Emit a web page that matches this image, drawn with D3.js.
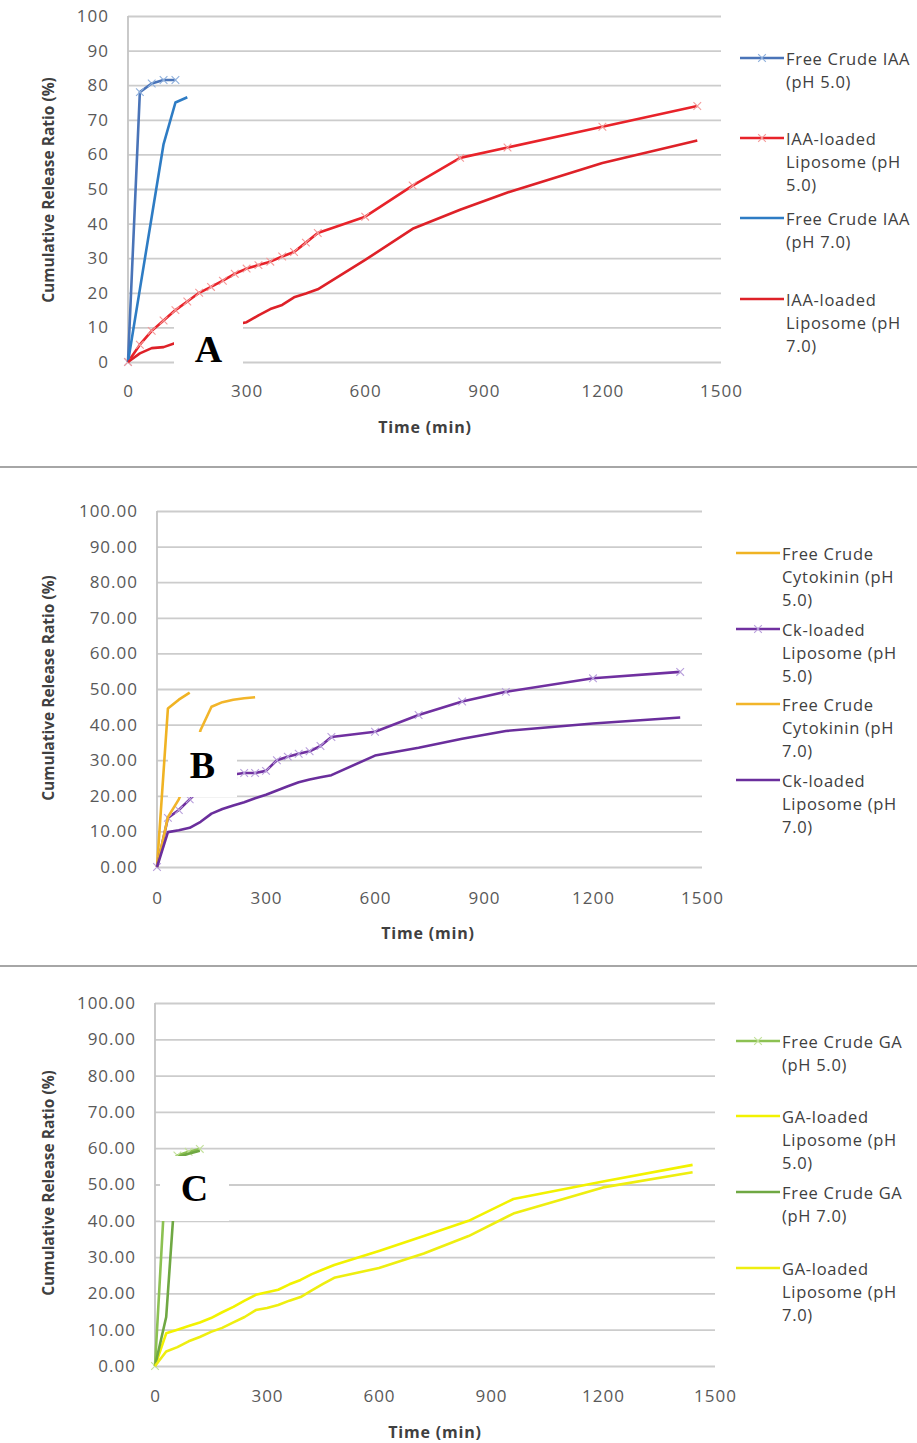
<!DOCTYPE html>
<html>
<head>
<meta charset="utf-8">
<script src="https://cdn.jsdelivr.net/npm/d3@7"></script>
<style>
  body { margin: 0; background: #fff; }
  svg { display: block; }
  text { font-family: "Open Sans", "DejaVu Sans", sans-serif; }
</style>
</head>
<body>
<script>
// ---------- shared axes ----------
const xTicks = [0, 300, 600, 900, 1200, 1500];
const yTicks = [0, 10, 20, 30, 40, 50, 60, 70, 80, 90, 100];
// sampling times (min) for the liposome release runs
const tLipo = [0, 30, 60, 90, 120, 150, 180, 210, 240, 270, 300, 330, 360, 390, 420, 450, 480, 600, 720, 840, 960, 1200, 1440];

// ---------- A: IAA ----------
const tFreeIAA5 = [0, 30, 60, 90, 120];
const freeIAA5 = [0, 78, 80.5, 81.5, 81.5];
const tFreeIAA7 = [0, 30, 60, 90, 120, 150];
const freeIAA7 = [0, 21, 42, 63, 75, 76.5];
const lipoIAA5 = [0, 5, 9, 12, 15, 17.5, 20, 21.7, 23.5, 25.5, 27, 28, 29, 30.5, 31.8, 34.5, 37.3, 42, 51, 59, 62, 68, 74];
const lipoIAA7 = [0, 2.5, 4, 4.3, 5.5, 7, 8, 9, 10, 10.8, 11.5, 13.5, 15.3, 16.5, 18.7, 19.8, 21, 29.5, 38.5, 44, 49, 57.5, 64];
const legendA = [
  ["Free Crude IAA", "(pH 5.0)"],
  ["IAA-loaded", "Liposome (pH", "5.0)"],
  ["Free Crude IAA", "(pH 7.0)"],
  ["IAA-loaded", "Liposome (pH", "7.0)"]
];

// ---------- B: Cytokinin ----------
const tFreeCk5 = [0, 30, 60, 90];
const freeCk5 = [0, 44.5, 47, 49];
const tFreeCk7 = [0, 30, 60, 90, 120, 150, 180, 210, 240, 270];
const freeCk7 = [0, 14, 19, 27, 38.5, 45, 46.3, 47, 47.4, 47.7];
const lipoCk5 = [0, 13.8, 16, 19, 22, 24, 25.5, 26, 26.4, 26.4, 27, 30, 31, 31.8, 32.5, 34, 36.5, 38, 42.7, 46.5, 49.2, 53, 54.8];
const lipoCk7 = [0, 9.8, 10.3, 11, 12.7, 15, 16.3, 17.3, 18.2, 19.3, 20.3, 21.5, 22.7, 23.8, 24.6, 25.2, 25.8, 31.3, 33.5, 36, 38.2, 40.3, 42];
const legendB = [
  ["Free Crude", "Cytokinin (pH", "5.0)"],
  ["Ck-loaded", "Liposome (pH", "5.0)"],
  ["Free Crude", "Cytokinin (pH", "7.0)"],
  ["Ck-loaded", "Liposome (pH", "7.0)"]
];

// ---------- C: GA ----------
const tFreeGA5 = [0, 30, 60, 90, 120];
const freeGA5 = [0, 55, 58, 59, 59.8];
const tFreeGA7 = [0, 30, 60, 90, 120];
const freeGA7 = [0, 13.5, 57.5, 58.5, 59.3];
const lipoGA5 = [0, 9, 10, 11, 12, 13.2, 14.8, 16.3, 18, 19.6, 20.3, 21, 22.5, 23.7, 25.3, 26.6, 27.8, 31.7, 35.8, 40, 46, 50.8, 55.4];
const lipoGA7 = [0, 4, 5.2, 6.8, 8, 9.4, 10.5, 12, 13.5, 15.4, 16, 16.8, 18, 19, 20.8, 22.6, 24.3, 27, 31, 35.8, 42, 49.2, 53.4];
const legendC = [
  ["Free Crude GA", "(pH 5.0)"],
  ["GA-loaded", "Liposome (pH", "5.0)"],
  ["Free Crude GA", "(pH 7.0)"],
  ["GA-loaded", "Liposome (pH", "7.0)"]
];

const zip = (t, v) => t.map((d, i) => ({ t: d, v: v[i] }));

const svg = d3.select("body").append("svg")
  .attr("width", 917).attr("height", 1443);

function styleTicks(a) {
  a.selectAll("text").attr("fill", "#595959").attr("font-family", null)
    .style("font-size", "17px").style("letter-spacing", "1px");
}

function drawPanel(p) {
  const x = d3.scaleLinear().domain([0, 1500]).range([p.x0, p.x1]);
  const y = d3.scaleLinear().domain([0, 100]).range([p.yb, p.yt]);
  const g = svg.append("g");

  // horizontal gridlines + y tick labels
  g.append("g")
    .attr("transform", `translate(${p.x0},0)`)
    .call(d3.axisLeft(y).tickValues(yTicks)
      .tickSizeInner(-(p.x1 - p.x0)).tickSizeOuter(0).tickPadding(p.yPad)
      .tickFormat(p.yFmt))
    .call(a => a.select(".domain").remove())
    .call(a => a.selectAll("line").attr("stroke", "#cccccc").attr("stroke-width", 1.8))
    .call(styleTicks);

  // vertical axis line
  g.append("line")
    .attr("x1", p.x0).attr("x2", p.x0).attr("y1", p.yt).attr("y2", p.yb)
    .attr("stroke", "#c4c4c4").attr("stroke-width", 1.8);

  // x tick labels
  g.append("g")
    .attr("transform", `translate(0,${p.yb})`)
    .call(d3.axisBottom(x).tickValues(xTicks).tickSize(0).tickPadding(p.xPad)
      .tickFormat(d3.format("d")))
    .call(a => a.select(".domain").remove())
    .call(styleTicks);

  // axis titles
  g.append("text")
    .attr("transform", `translate(${p.ytX},${p.ytY}) rotate(-90)`)
    .attr("text-anchor", "middle").attr("dominant-baseline", "central")
    .attr("fill", "#404040").style("font-size", "15.5px").style("font-weight", 700)
    .text("Cumulative Release Ratio (%)");
  g.append("text")
    .attr("x", p.xtX).attr("y", p.xtY)
    .attr("text-anchor", "middle").attr("dominant-baseline", "central")
    .attr("fill", "#404040").style("font-size", "16px").style("font-weight", 700)
    .style("letter-spacing", "0.8px")
    .text("Time (min)");

  const line = d3.line().x(d => x(d.t)).y(d => y(d.v));
  const cross = d3.symbol().type(d3.symbolX).size(40);

  p.series.forEach(s => {
    const data = zip(s.t, s.v);
    g.append("path").datum(data)
      .attr("fill", "none").attr("stroke", s.color)
      .attr("stroke-width", 2.6).attr("stroke-linejoin", "round")
      .attr("d", line);
    if (s.marker) {
      g.selectAll(null).data(data).enter().append("path")
        .attr("transform", d => `translate(${x(d.t)},${y(d.v)})`)
        .attr("d", cross).attr("fill", "none")
        .attr("stroke", s.marker).attr("stroke-width", 1.1);
    }
  });

  // panel letter on a white box
  g.append("rect")
    .attr("x", p.box[0]).attr("y", p.box[1]).attr("width", p.box[2]).attr("height", p.box[3])
    .attr("fill", "#fff");
  g.append("text")
    .attr("x", p.box[0] + p.box[2] / 2).attr("y", p.letterY)
    .attr("text-anchor", "middle").attr("dominant-baseline", "central")
    .attr("font-family", "'Liberation Serif', 'Times New Roman', serif")
    .style("font-family", "'Liberation Serif', 'Times New Roman', serif")
    .style("font-size", "38px").style("font-weight", 700).attr("fill", "#000")
    .text(p.letter);

  // legend
  p.legend.forEach((lines, i) => {
    const s = p.series[i];
    const ly = p.legY[i];
    g.append("line")
      .attr("x1", p.legX).attr("x2", p.legX + 44).attr("y1", ly).attr("y2", ly)
      .attr("stroke", s.color).attr("stroke-width", 2.6);
    if (s.marker) {
      g.append("path").attr("transform", `translate(${p.legX + 22},${ly})`)
        .attr("d", cross).attr("fill", "none")
        .attr("stroke", s.marker).attr("stroke-width", 1.1);
    }
    lines.forEach((txt, j) => {
      g.append("text")
        .attr("x", p.legX + 46).attr("y", ly + j * 23)
        .attr("dominant-baseline", "central")
        .attr("fill", "#404040").style("font-size", "16.5px")
        .style("letter-spacing", "0.7px")
        .text(txt);
    });
  });
}

const fmtInt = d3.format("d");
const fmt2 = d3.format(".2f");

drawPanel({
  x0: 128, x1: 721, yt: 16, yb: 362, yPad: 19, xPad: 23, yFmt: fmtInt,
  ytX: 48, ytY: 190, xtX: 425, xtY: 427,
  box: [174, 318, 69, 58], letter: "A", letterY: 349,
  legX: 740, legY: [58, 138, 218, 299],
  legend: legendA,
  series: [
    { t: tFreeIAA5, v: freeIAA5, color: "#4a74b8", marker: "#8fb0dc" },
    { t: tLipo, v: lipoIAA5, color: "#e8232a", marker: "#f49a9a" },
    { t: tFreeIAA7, v: freeIAA7, color: "#2e7cc4" },
    { t: tLipo, v: lipoIAA7, color: "#de2128" }
  ]
});

drawPanel({
  x0: 157, x1: 702, yt: 511, yb: 867, yPad: 19, xPad: 25, yFmt: fmt2,
  ytX: 48, ytY: 688, xtX: 428, xtY: 933,
  box: [168, 732, 69, 65], letter: "B", letterY: 765,
  legX: 736, legY: [553, 629, 704, 780],
  legend: legendB,
  series: [
    { t: tFreeCk5, v: freeCk5, color: "#f0b323" },
    { t: tLipo, v: lipoCk5, color: "#7030a0", marker: "#b9a0dc" },
    { t: tFreeCk7, v: freeCk7, color: "#f2b52a" },
    { t: tLipo, v: lipoCk7, color: "#6a2e9c" }
  ]
});

drawPanel({
  x0: 155, x1: 715, yt: 1003, yb: 1366, yPad: 19, xPad: 24, yFmt: fmt2,
  ytX: 48, ytY: 1183, xtX: 435, xtY: 1432,
  box: [160, 1156, 69, 65], letter: "C", letterY: 1188,
  legX: 736, legY: [1041, 1116, 1192, 1268],
  legend: legendC,
  series: [
    { t: tFreeGA5, v: freeGA5, color: "#8cc152", marker: "#c2e09a" },
    { t: tLipo, v: lipoGA5, color: "#f2f200" },
    { t: tFreeGA7, v: freeGA7, color: "#6fa843" },
    { t: tLipo, v: lipoGA7, color: "#eeee10" }
  ]
});

// panel separators
[467, 966].forEach(yy => {
  svg.append("line").attr("x1", 0).attr("x2", 917).attr("y1", yy).attr("y2", yy)
    .attr("stroke", "#a6a6a6").attr("stroke-width", 2);
});
</script>
</body>
</html>
